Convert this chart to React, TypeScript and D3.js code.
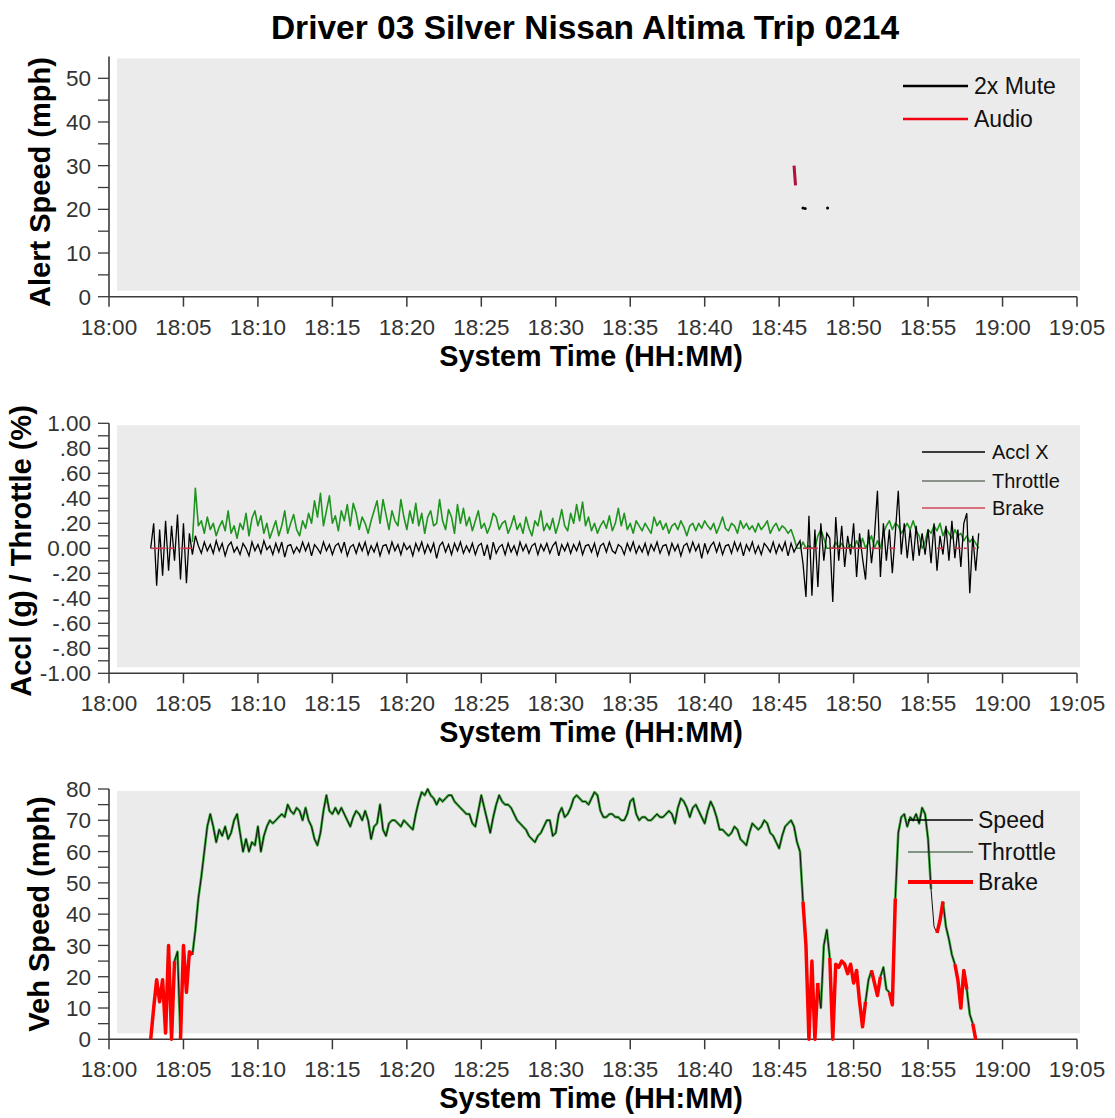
import React from "react";
import * as d3 from "d3";

// ---------- DATA ----------
const chartTitle = "Driver 03 Silver Nissan Altima Trip 0214";
const xTitle = "System Time (HH:MM)";
const timeTickLabels = ["18:00", "18:05", "18:10", "18:15", "18:20", "18:25", "18:30", "18:35", "18:40", "18:45", "18:50", "18:55", "19:00", "19:05"];
const timeTickMinutes = [0, 5, 10, 15, 20, 25, 30, 35, 40, 45, 50, 55, 60, 65];

const alertTickVals = [0, 10, 20, 30, 40, 50];
const alertTickLabels = ["0", "10", "20", "30", "40", "50"];
const acclTickVals = [-1, -0.8, -0.6, -0.4, -0.2, 0, 0.2, 0.4, 0.6, 0.8, 1];
const acclTickLabels = ["-1.00", "-.80", "-.60", "-.40", "-.20", "0.00", ".20", ".40", ".60", ".80", "1.00"];
const speedTickVals = [0, 10, 20, 30, 40, 50, 60, 70, 80];
const speedTickLabels = ["0", "10", "20", "30", "40", "50", "60", "70", "80"];

// Panel 1: alert events (minutes after 18:00, mph)
const audioMinutes = [46.0, 46.1];
const audioSpeed = [30, 25.5];
const muteMinutes = [46.6, 46.75, 48.25];
const muteSpeed = [20.3, 20.2, 20.3];

// Logged signals, one sample every 0.2 minute
const sampleStep = 0.2;
const acclStart = 2.8;
const acclX = [
  0, 0.2, -0.3, 0.15, -0.22, 0.22, -0.18, 0.18, -0.1, 0.27,
  -0.25, 0.2, -0.28, 0.12, -0.05, 0.1, 0.02, -0.04, 0.05, -0.02,
  0.03, -0.04, 0.06, -0.02, 0.04, -0.06, 0.02, 0.05, -0.03, 0.01,
  -0.05, 0.04, 0.0, -0.06, 0.05, -0.02, 0.03, -0.04, 0.06, -0.01,
  0.02, -0.05, 0.04, -0.03, 0.05, -0.07, 0.02, 0.03, -0.04, 0.01,
  -0.03, 0.05, -0.02, 0.04, -0.06, 0.03, 0.0, -0.04, 0.05, -0.02,
  0.03, -0.05, 0.02, 0.04, -0.03, 0.05, -0.06, 0.01, 0.03, -0.04,
  0.04, -0.02, 0.05, -0.05, 0.02, -0.03, 0.04, -0.06, 0.02, 0.03,
  -0.04, 0.05, -0.02, 0.03, -0.05, 0.04, -0.01, 0.02, -0.06, 0.04,
  -0.02, 0.05, -0.04, 0.03, -0.03, 0.04, -0.08, 0.02, 0.05, -0.03,
  0.03, -0.05, 0.04, -0.02, 0.05, -0.04, 0.02, -0.03, 0.04, -0.05,
  0.02, 0.04, -0.06, 0.03, -0.09, 0.05, -0.04, 0.01, 0.03, -0.05,
  0.04, -0.03, 0.02, -0.05, 0.05, -0.02, 0.03, -0.04, 0.02, 0.04,
  -0.05, 0.03, -0.02, 0.04, -0.04, 0.02, 0.05, -0.06, 0.03, -0.02,
  0.04, -0.04, 0.03, -0.02, 0.05, -0.05, 0.02, 0.03, -0.03, 0.04,
  -0.06, 0.02, 0.04, -0.03, 0.05, -0.02, -0.04, 0.03, 0.01, -0.05,
  0.04, -0.02, 0.05, -0.04, 0.02, -0.03, 0.04, -0.05, 0.03, -0.02,
  0.05, -0.04, 0.02, 0.03, -0.05, 0.04, -0.02, 0.03, -0.06, 0.02,
  0.04, -0.03, 0.05, -0.02, 0.03, -0.08, 0.04, -0.04, 0.02, 0.05,
  -0.03, 0.04, -0.05, 0.02, 0.03, -0.04, 0.05, -0.02, 0.04, -0.06,
  0.03, -0.02, 0.05, -0.04, 0.02, -0.05, 0.04, 0.01, -0.03, 0.05,
  -0.04, 0.03, -0.02, 0.05, -0.06, 0.04, -0.03, 0.02, 0.06, -0.12,
  -0.39, 0.26, -0.38, 0.15, -0.31, 0.2, -0.1, 0.12, 0.08, -0.43,
  0.25, -0.1, 0.18, -0.15, 0.1, -0.05, 0.2, -0.23, 0.12, -0.08,
  -0.25, 0.15, -0.12, 0.1, 0.46, -0.23, 0.2, -0.1, 0.15, -0.2,
  0.12, 0.46, -0.05, 0.2, -0.08, 0.15, -0.1, 0.18, -0.06, 0.12,
  -0.05, 0.15, -0.12, 0.2, -0.18, 0.1, -0.05, 0.18, -0.1, 0.22,
  -0.08, 0.15, -0.15, 0.2, 0.28, -0.36, 0.1, -0.18, 0.12,
];

const throttleStart = 5.6;
const throttlePct = [
  0.05, 0.48, 0.18, 0.22, 0.12, 0.25, 0.15, 0.2, 0.1, 0.17,
  0.22, 0.14, 0.3, 0.12, 0.18, 0.08, 0.2, 0.15, 0.28, 0.1,
  0.24, 0.3, 0.18, 0.26, 0.12, 0.2, 0.08, 0.15, 0.22, 0.1,
  0.18, 0.3, 0.12, 0.2, 0.27, 0.15, 0.1, 0.22, 0.16, 0.28,
  0.2, 0.38, 0.25, 0.44, 0.18, 0.3, 0.42, 0.2, 0.26, 0.14,
  0.3, 0.22, 0.35, 0.18, 0.36, 0.28, 0.15, 0.25, 0.2, 0.12,
  0.22, 0.3, 0.38, 0.2, 0.39, 0.27, 0.15, 0.3, 0.22, 0.18,
  0.39, 0.25, 0.15, 0.3, 0.2, 0.36, 0.18, 0.28, 0.12, 0.25,
  0.3, 0.18, 0.2, 0.39, 0.22, 0.15, 0.31, 0.25, 0.12, 0.35,
  0.2, 0.32, 0.18, 0.25, 0.14, 0.22, 0.3, 0.16, 0.2, 0.12,
  0.18, 0.28, 0.25, 0.15, 0.2, 0.22, 0.12, 0.18, 0.26, 0.15,
  0.2, 0.12, 0.25, 0.16, 0.1, 0.22, 0.18, 0.3, 0.14, 0.2,
  0.15, 0.24, 0.12, 0.2, 0.31, 0.18, 0.14, 0.28, 0.2, 0.35,
  0.22, 0.37, 0.18, 0.25, 0.14, 0.2, 0.12, 0.18, 0.22, 0.16,
  0.26, 0.14, 0.2, 0.32, 0.18, 0.28, 0.15, 0.2, 0.12, 0.22,
  0.18, 0.14, 0.2, 0.16, 0.12, 0.25, 0.18, 0.22, 0.15, 0.2,
  0.12, 0.18, 0.2, 0.15, 0.22, 0.17, 0.1, 0.18, 0.2, 0.14,
  0.2, 0.16, 0.22, 0.18, 0.15, 0.2, 0.12, 0.18, 0.25, 0.16,
  0.14, 0.2, 0.18, 0.12, 0.22, 0.16, 0.2, 0.15, 0.18, 0.13,
  0.2, 0.15, 0.18, 0.22, 0.12, 0.17, 0.2, 0.14, 0.18, 0.16,
  0.12, 0.15, 0.08, 0, 0, 0.05, 0, 0.02, 0, 0,
  0.1, 0.15, 0.08, 0, 0, 0, 0.05, 0, 0.04, 0,
  0, 0.03, 0, 0.06, 0, 0.08, 0, 0.05, 0.1, 0,
  0.06, 0, 0.12, 0.18, 0.22, 0.15, 0.2, 0.18, 0.12, 0.16,
  0.2, 0.15, 0.22, 0.14, 0.1, 0, 0.05, 0.15, 0.12, 0.18,
  0.14, 0.2, 0.1, 0.16, 0.12, 0.08, 0.15, 0.1, 0.12, 0.06,
  0.1, 0.05, 0.08, 0.04, 0,
];

const speedStart = 2.8;
const speedMph = [
  0, 10, 19, 12, 19, 2, 30, 0, 25, 28,
  0, 30, 15, 28, 27, 35, 45, 52, 60, 68,
  72, 68, 63, 67, 65, 68, 64, 66, 70, 72,
  66, 60, 64, 60, 63, 62, 68, 60, 65, 68,
  70, 69, 70, 71, 72, 71, 75, 73, 72, 74,
  73, 70, 74, 70, 68, 64, 62, 66, 73, 78,
  73, 72, 74, 72, 74, 72, 70, 68, 71, 73,
  72, 70, 73, 70, 64, 68, 69, 75, 67, 65,
  69, 70, 70, 69, 68, 70, 69, 68, 67, 72,
  76, 79, 78, 80, 78, 77, 75, 77, 76, 77,
  78, 78, 76, 75, 74, 73, 72, 72, 69, 68,
  73, 78, 74, 70, 66, 71, 75, 78, 76, 75,
  75, 74, 72, 70, 69, 68, 67, 65, 64, 63,
  65, 66, 68, 70, 70, 65, 66, 72, 74, 71,
  72, 74, 77, 78, 77, 76, 76, 75, 77, 79,
  78, 73, 71, 71, 72, 72, 71, 71, 70, 70,
  72, 76, 77, 72, 70, 71, 71, 70, 70, 71,
  72, 71, 71, 72, 73, 72, 69, 74, 77, 76,
  74, 71, 74, 75, 73, 71, 69, 73, 76, 74,
  71, 67, 67, 66, 65, 66, 68, 67, 64, 63,
  62, 66, 69, 68, 67, 68, 70, 69, 66, 65,
  63, 61, 65, 68, 69, 70, 68, 63, 60, 44,
  30, 0, 25, 0, 18, 10, 30, 35, 26, 0,
  24, 23, 25, 24, 21, 24, 18, 22, 12, 4,
  12, 19, 22, 18, 14, 20, 23, 16, 15, 11,
  45, 66, 71, 72, 68, 71, 70, 72, 69, 74,
  72, 64, 48, 36, 34, 38, 44, 36, 32, 27,
  24, 19, 10, 22, 16, 8, 5, 0,
];

// Pedal state intervals (minutes after 18:00)
const brakeStarts = [2.8, 4.0, 4.8, 46.6, 48.4, 51.2, 52.4, 55.6, 56.8, 57.4, 58.0];
const brakeEnds = [3.8, 4.4, 5.6, 47.6, 50.8, 51.8, 52.8, 56.0, 57.2, 57.6, 58.2];
const throttleStarts = [3.8, 4.4, 5.6, 47.6, 50.8, 51.8, 52.8, 56.0, 57.2, 57.6];
const throttleEnds = [4.0, 4.8, 46.6, 48.4, 51.2, 52.4, 55.2, 56.8, 57.4, 58.0];

// ---------- CHART ----------
const FONT = "'Liberation Sans', Arial, Helvetica, sans-serif";
const AXIS = "#3a3a3a";

function inRanges(t: number, starts: number[], ends: number[]) {
  for (let k = 0; k < starts.length; k++) {
    if (t >= starts[k] - 1e-6 && t <= ends[k] + 1e-6) return true;
  }
  return false;
}

type PanelProps = {
  y: d3.ScaleLinear<number, number>;
  lo: number;
  hi: number;
  tickVals: number[];
  labelVals: number[];
  labels: string[];
  title: string;
  titleX: number;
  titleY: number;
  x: d3.ScaleLinear<number, number>;
};

function Frame({ y, lo, hi, tickVals, labelVals, labels, title, titleX, titleY, x }: PanelProps) {
  const y0 = y(lo);
  const yTop = y(hi);
  return (
    <g>
      <rect x={117} y={yTop + 2} width={963} height={y0 - 6 - (yTop + 2)} fill="#ebebeb" />
      {tickVals.map((v, i) => (
        <line key={"yt" + i} x1={98} x2={109} y1={y(v)} y2={y(v)} stroke={AXIS} strokeWidth={1.3} />
      ))}
      {labelVals.map((v, i) => (
        <text key={"yl" + i} x={91} y={y(v)} dy="0.36em" textAnchor="end" fontSize={22.5} fill="#333" fontFamily={FONT}>
          {labels[i]}
        </text>
      ))}
      {timeTickMinutes.map((m, i) => (
        <g key={"xt" + i}>
          <line x1={x(m)} x2={x(m)} y1={y0} y2={y0 + 10} stroke={AXIS} strokeWidth={1.5} />
          <text x={x(m)} y={y0 + 38} textAnchor="middle" fontSize={22.5} fill="#333" fontFamily={FONT}>
            {timeTickLabels[i]}
          </text>
        </g>
      ))}
      <line x1={109} x2={109} y1={y0} y2={yTop} stroke={AXIS} strokeWidth={1.6} />
      <line x1={109} x2={x(65)} y1={y0} y2={y0} stroke={AXIS} strokeWidth={1.6} />
      <text
        transform={`translate(${titleX},${titleY}) rotate(-90)`}
        textAnchor="middle"
        fontSize={29}
        fontWeight="bold"
        fontFamily={FONT}
        fill="#000"
      >
        {title}
      </text>
      <text x={591} y={y0 + 69} textAnchor="middle" fontSize={28.8} fontWeight="bold" fontFamily={FONT} fill="#000">
        {xTitle}
      </text>
    </g>
  );
}

function Legend({ items, x1, x2, tx, ys, fs }: { items: { label: string; color: string; w: number }[]; x1: number; x2: number; tx: number; ys: number[]; fs: number }) {
  return (
    <g>
      {items.map((it, i) => (
        <g key={i}>
          <line x1={x1} x2={x2} y1={ys[i]} y2={ys[i]} stroke={it.color} strokeWidth={it.w} />
          <text x={tx} y={ys[i]} dy="0.36em" fontSize={fs} fontFamily={FONT} fill="#111">
            {it.label}
          </text>
        </g>
      ))}
    </g>
  );
}

export default function App() {
  const x = d3.scaleLinear().domain([0, 65]).range([109, 1077]);

  const y1 = d3.scaleLinear().domain([0, 50]).range([296.7, 78.3]);
  const y2 = d3.scaleLinear().domain([-1, 1]).range([673.3, 423.3]);
  const y3 = d3.scaleLinear().domain([0, 80]).range([1039.3, 789]);

  const tA = (i: number) => acclStart + i * sampleStep;
  const tT = (i: number) => throttleStart + i * sampleStep;
  const tS = (i: number) => speedStart + i * sampleStep;

  // Panel 1
  const audioLine = d3
    .line<number>()
    .x((_, i) => x(audioMinutes[i]))
    .y((v) => y1(v))(audioSpeed) || "";

  // Panel 2
  const acclLine = d3
    .line<number>()
    .x((_, i) => x(tA(i)))
    .y((v) => y2(v))(acclX) || "";
  const thrLine = d3
    .line<number>()
    .x((_, i) => x(tT(i)))
    .y((v) => y2(v))(throttlePct) || "";

  // Panel 3
  const speedLine = d3
    .line<number>()
    .x((_, i) => x(tS(i)))
    .y((v) => y3(v))(speedMph) || "";
  const speedThrottle = d3
    .line<number>()
    .defined((_, i) => inRanges(tS(i), throttleStarts, throttleEnds))
    .x((_, i) => x(tS(i)))
    .y((v) => y3(v))(speedMph) || "";
  const speedBrake = d3
    .line<number>()
    .defined((_, i) => inRanges(tS(i), brakeStarts, brakeEnds))
    .x((_, i) => x(tS(i)))
    .y((v) => y3(v))(speedMph) || "";

  const minor5 = (hi: number) => d3.range(0, hi + 0.001, 5);
  const minorAccl = d3.range(-10, 11).map((k) => k / 10);

  return (
    <svg
      width={1115}
      height={1118}
      viewBox="0 0 1115 1118"
      style={{ position: "absolute", left: 0, top: 0, display: "block", background: "#fff" }}
    >
      <rect x={0} y={0} width={1115} height={1118} fill="#fff" />
      <text x={585} y={39} textAnchor="middle" fontSize={33.5} fontWeight="bold" fontFamily={FONT} fill="#000">
        {chartTitle}
      </text>

      {/* Panel 1 */}
      <Frame
        y={y1}
        lo={0}
        hi={55}
        tickVals={minor5(50)}
        labelVals={alertTickVals}
        labels={alertTickLabels}
        title="Alert Speed (mph)"
        titleX={50}
        titleY={182}
        x={x}
      />
      <path d={audioLine} fill="none" stroke="#b0103c" strokeWidth={3} />
      {muteMinutes.map((m, i) => (
        <circle key={i} cx={x(m)} cy={y1(muteSpeed[i])} r={1.5} fill="#000" />
      ))}
      <Legend
        items={[
          { label: "2x Mute", color: "#000", w: 2.5 },
          { label: "Audio", color: "#f00010", w: 2.5 },
        ]}
        x1={903}
        x2={968}
        tx={974}
        ys={[86, 119]}
        fs={23}
      />

      {/* Panel 2 */}
      <Frame
        y={y2}
        lo={-1}
        hi={1}
        tickVals={minorAccl}
        labelVals={acclTickVals}
        labels={acclTickLabels}
        title="Accl (g) / Throttle (%)"
        titleX={31}
        titleY={551}
        x={x}
      />
      <path d={thrLine} fill="none" stroke="#1f941f" strokeWidth={1.6} strokeLinejoin="round" />
      <path d={acclLine} fill="none" stroke="#000" strokeWidth={1.3} />
      {brakeStarts.map((s, i) => (
        <line key={i} x1={x(s)} x2={x(brakeEnds[i])} y1={y2(0)} y2={y2(0)} stroke="#d03048" strokeWidth={1.6} />
      ))}
      <Legend
        items={[
          { label: "Accl X", color: "#000", w: 1.6 },
          { label: "Throttle", color: "#2a3a2a", w: 1.1 },
          { label: "Brake", color: "#d04858", w: 1.6 },
        ]}
        x1={922}
        x2={985}
        tx={992}
        ys={[452, 481, 508]}
        fs={20}
      />

      {/* Panel 3 */}
      <Frame
        y={y3}
        lo={0}
        hi={80}
        tickVals={minor5(80)}
        labelVals={speedTickVals}
        labels={speedTickLabels}
        title="Veh Speed (mph)"
        titleX={49}
        titleY={914}
        x={x}
      />
      <path d={speedThrottle} fill="none" stroke="#3aa53a" strokeWidth={2.6} strokeLinejoin="round" />
      <path d={speedLine} fill="none" stroke="#111" strokeWidth={1} />
      <path d={speedBrake} fill="none" stroke="#ff0000" strokeWidth={3.5} strokeLinejoin="round" />
      <Legend
        items={[
          { label: "Speed", color: "#000", w: 1.6 },
          { label: "Throttle", color: "#1f3f1f", w: 1.1 },
          { label: "Brake", color: "#ff0000", w: 4 },
        ]}
        x1={908}
        x2={973}
        tx={978}
        ys={[820, 852, 882]}
        fs={23}
      />
    </svg>
  );
}
